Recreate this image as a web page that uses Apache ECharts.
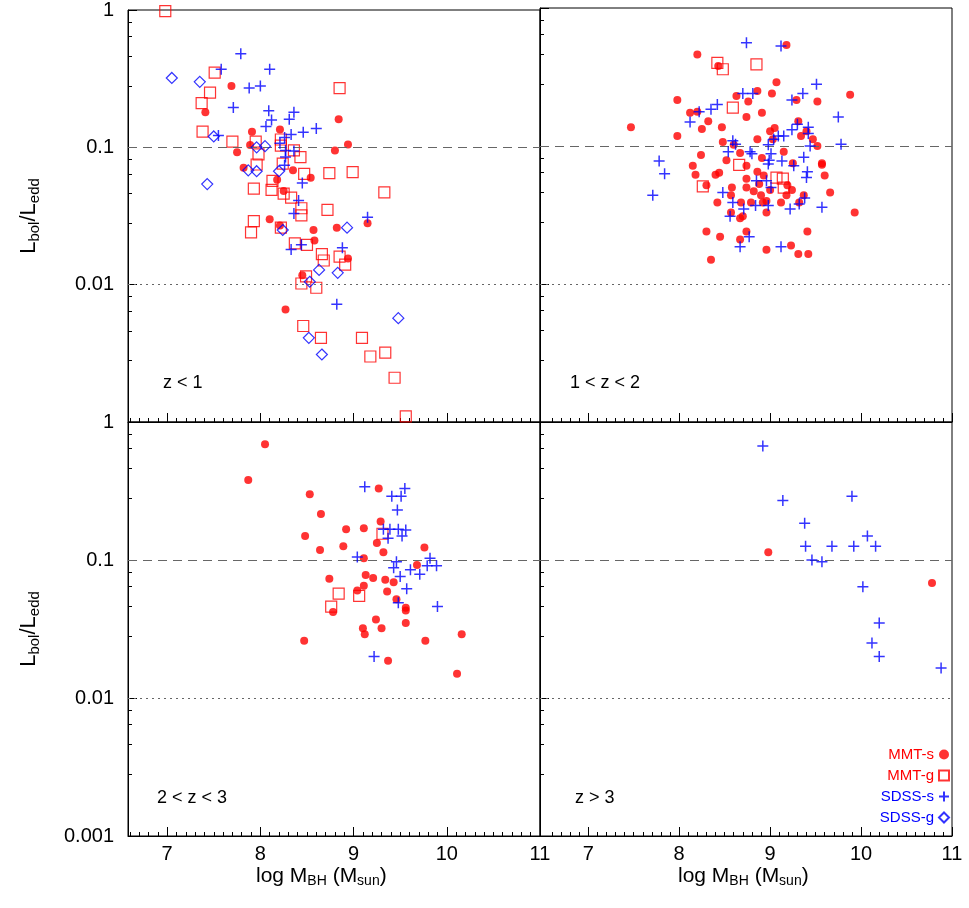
<!DOCTYPE html>
<html>
<head>
<meta charset="utf-8">
<script src="https://cdn.jsdelivr.net/npm/echarts@6/dist/echarts.min.js"></script>
<style>html,body{margin:0;background:#fff}#app{width:969px;height:908px}</style>
</head>
<body>
<div id="app"></div>
<script>
// panel labels
var panelNames = ['z < 1', '1 < z < 2', '2 < z < 3', 'z > 3'];
var seriesNames = ['MMT-s', 'MMT-g', 'SDSS-s', 'SDSS-g'];
var xTicks = [7, 8, 9, 10, 11];
var xMinorTicks = [];
for (var t = 66; t <= 110; t++) if (t % 10) xMinorTicks.push(t / 10);
var yTicks = [0.001, 0.01, 0.1, 1];

// z < 1 : [log M_BH, Lbol/Ledd]
var z1MmtS = [[7.69,0.28],[7.41,0.18],[7.91,0.13],[8.21,0.135],[7.89,0.104],[7.75,0.092],[8.84,0.16],[8.94,0.105],[8.80,0.095],[7.82,0.071],[8.35,0.068],[8.54,0.06],[8.18,0.058],[8.25,0.048],[8.10,0.030],[8.21,0.027],[8.57,0.025],[8.82,0.026],[8.58,0.021],[9.15,0.028],[8.94,0.0155],[8.45,0.0117],[8.27,0.0066]];
var z1MmtG = [[6.98,0.98],[7.51,0.35],[7.46,0.25],[7.37,0.21],[7.38,0.13],[7.70,0.11],[8.85,0.27],[7.95,0.11],[7.98,0.089],[7.96,0.075],[8.22,0.114],[8.22,0.103],[8.36,0.095],[8.43,0.085],[8.24,0.076],[8.13,0.057],[7.93,0.05],[8.12,0.049],[8.25,0.046],[8.33,0.043],[8.47,0.064],[8.74,0.065],[8.99,0.066],[9.33,0.047],[8.44,0.036],[8.72,0.035],[8.44,0.032],[7.93,0.029],[7.90,0.024],[8.22,0.026],[8.37,0.020],[8.50,0.0195],[8.66,0.0167],[8.68,0.015],[8.85,0.016],[8.91,0.014],[8.49,0.0115],[8.44,0.0102],[8.60,0.0095],[8.46,0.005],[8.65,0.0041],[9.09,0.0041],[9.18,0.003],[9.34,0.0032],[9.44,0.0021],[9.56,0.0011]];
var z1SdssS = [[7.79,0.48],[7.58,0.37],[8.10,0.37],[7.88,0.27],[8.00,0.28],[7.71,0.195],[8.09,0.185],[8.36,0.18],[8.31,0.16],[8.12,0.158],[8.06,0.142],[8.60,0.137],[8.46,0.129],[8.33,0.124],[8.26,0.118],[7.55,0.122],[8.21,0.107],[8.27,0.095],[8.36,0.094],[8.27,0.085],[8.26,0.074],[8.45,0.055],[8.41,0.041],[8.36,0.033],[9.15,0.031],[8.44,0.0195],[8.33,0.018],[8.88,0.0186],[8.82,0.0072]];
var z1SdssG = [[7.05,0.32],[7.35,0.30],[7.50,0.12],[7.43,0.054],[7.96,0.1],[8.05,0.102],[7.87,0.068],[7.96,0.067],[8.20,0.067],[8.24,0.025],[8.93,0.026],[8.63,0.0128],[8.83,0.0122],[8.53,0.0105],[9.48,0.0057],[8.52,0.0041],[8.66,0.0031]];

// 1 < z < 2
var z2MmtS = [[9.18,0.54],[8.20,0.46],[8.43,0.38],[9.07,0.29],[8.63,0.23],[8.86,0.25],[9.02,0.24],[9.88,0.235],[7.98,0.215],[8.76,0.21],[9.29,0.215],[9.52,0.21],[8.12,0.174],[8.20,0.177],[8.91,0.174],[8.74,0.162],[8.32,0.151],[7.47,0.137],[8.25,0.133],[8.47,0.137],[9.31,0.151],[7.98,0.118],[9.00,0.128],[9.05,0.135],[9.34,0.118],[9.40,0.128],[8.48,0.107],[8.86,0.112],[9.03,0.112],[9.47,0.112],[9.52,0.1],[8.60,0.102],[8.24,0.086],[8.52,0.079],[8.67,0.089],[8.91,0.082],[9.15,0.091],[8.15,0.072],[8.74,0.072],[9.25,0.075],[9.57,0.075],[9.57,0.073],[8.18,0.062],[8.40,0.062],[8.44,0.064],[8.74,0.058],[8.86,0.065],[8.93,0.061],[9.60,0.061],[8.30,0.052],[8.58,0.05],[8.74,0.05],[8.88,0.053],[9.19,0.052],[9.24,0.048],[8.57,0.044],[8.82,0.047],[8.90,0.044],[9.00,0.048],[9.18,0.044],[9.37,0.044],[9.66,0.046],[8.42,0.039],[8.68,0.039],[8.79,0.039],[8.92,0.039],[8.96,0.04],[9.12,0.039],[9.32,0.039],[9.93,0.033],[8.57,0.033],[8.96,0.033],[8.67,0.030],[8.70,0.031],[8.30,0.024],[8.74,0.024],[9.41,0.024],[8.45,0.022],[8.67,0.021],[8.96,0.0177],[9.23,0.019],[9.31,0.0165],[9.42,0.0165],[8.35,0.015]];
var z2MmtG = [[8.42,0.40],[8.48,0.36],[8.85,0.39],[8.59,0.19],[8.66,0.073],[8.26,0.051],[9.07,0.059],[9.14,0.058],[9.15,0.05]];
var z2SdssS = [[8.74,0.56],[9.12,0.53],[9.51,0.28],[9.36,0.24],[8.70,0.24],[8.81,0.24],[9.24,0.215],[8.42,0.2],[8.35,0.185],[8.22,0.177],[8.12,0.149],[9.75,0.162],[9.30,0.144],[9.42,0.137],[9.24,0.131],[9.15,0.118],[9.09,0.118],[9.42,0.123],[9.04,0.112],[8.59,0.109],[8.62,0.103],[8.98,0.102],[9.44,0.1],[9.78,0.103],[8.54,0.091],[8.78,0.091],[8.80,0.088],[9.01,0.088],[7.78,0.078],[9.37,0.083],[8.99,0.079],[9.13,0.078],[8.98,0.074],[9.26,0.072],[7.84,0.063],[9.41,0.065],[9.40,0.059],[8.85,0.056],[8.96,0.056],[9.01,0.05],[7.71,0.044],[8.48,0.046],[9.38,0.042],[8.59,0.039],[8.71,0.035],[8.84,0.037],[8.98,0.037],[9.22,0.035],[9.32,0.038],[9.57,0.036],[8.56,0.031],[8.77,0.022],[8.67,0.0186],[9.12,0.0186]];
var z2SdssG = [];

// 2 < z < 3
var z3MmtS = [[8.05,0.69],[7.87,0.38],[8.53,0.30],[8.65,0.215],[9.27,0.33],[8.48,0.149],[8.92,0.167],[9.11,0.17],[9.29,0.19],[8.64,0.118],[8.89,0.126],[9.25,0.133],[9.32,0.114],[9.76,0.123],[9.11,0.103],[9.68,0.092],[8.74,0.073],[9.13,0.078],[9.21,0.074],[9.34,0.072],[9.43,0.069],[9.11,0.065],[9.04,0.06],[9.36,0.059],[9.46,0.052],[8.78,0.042],[9.56,0.045],[9.56,0.043],[9.24,0.037],[9.56,0.035],[9.10,0.032],[9.30,0.032],[9.12,0.029],[8.47,0.026],[9.77,0.026],[10.16,0.029],[9.37,0.0186],[10.11,0.015]];
var z3MmtG = [[9.31,0.155],[8.84,0.057],[9.06,0.055],[8.76,0.046]];
var z3SdssS = [[9.12,0.34],[9.55,0.33],[9.41,0.29],[9.51,0.29],[9.47,0.23],[9.32,0.167],[9.39,0.167],[9.48,0.167],[9.56,0.165],[9.52,0.149],[9.37,0.144],[9.04,0.105],[9.82,0.103],[9.46,0.097],[9.43,0.088],[9.79,0.091],[9.89,0.091],[9.61,0.085],[9.71,0.079],[9.50,0.076],[9.57,0.062],[9.48,0.049],[9.90,0.046],[9.22,0.020]];
var z3SdssG = [];

// z > 3
var z4MmtS = [[8.98,0.114],[10.78,0.068]];
var z4MmtG = [];
var z4SdssS = [[8.92,0.67],[9.14,0.27],[9.38,0.185],[9.39,0.126],[9.68,0.126],[9.92,0.126],[9.90,0.29],[10.07,0.149],[10.16,0.126],[9.46,0.1],[9.57,0.097],[10.02,0.064],[10.20,0.035],[10.12,0.025],[10.20,0.020],[10.88,0.0165]];
var z4SdssG = [];

var panels = [
  [z1MmtS, z1MmtG, z1SdssS, z1SdssG],
  [z2MmtS, z2MmtG, z2SdssS, z2SdssG],
  [z3MmtS, z3MmtG, z3SdssS, z3SdssG],
  [z4MmtS, z4MmtG, z4SdssS, z4SdssG]
];

var plusPath = 'path://M0,5L10,5M5,0L5,10';
var styles = [
  { symbol: 'circle', symbolSize: 8, itemStyle: { color: '#f00' } },
  { symbol: 'rect', symbolSize: 11, itemStyle: { color: 'rgba(0,0,0,0)', borderColor: '#f00', borderWidth: 1.2 } },
  { symbol: plusPath, symbolSize: 11, itemStyle: { color: 'rgba(0,0,0,0)', borderColor: '#00f', borderWidth: 1.5 } },
  { symbol: 'diamond', symbolSize: 11, itemStyle: { color: 'rgba(0,0,0,0)', borderColor: '#00f', borderWidth: 1.2 } }
];

var gridPos = [
  { left: 128, top: 8, xmin: 6.58 }, { left: 540, top: 8, xmin: 6.47 },
  { left: 128, top: 422, xmin: 6.58 }, { left: 540, top: 422, xmin: 6.47 }
];
var grids = [], xAxes = [], yAxes = [], series = [];
gridPos.forEach(function (g, i) {
  grids.push({ left: g.left, top: g.top, width: 412, height: 414, show: true, borderColor: '#000', borderWidth: 1, backgroundColor: 'transparent' });
  // major ticks at integers
  xAxes.push({
    gridIndex: i, type: 'value', min: g.xmin, max: 11,
    axisLine: { show: true, lineStyle: { color: '#000' } },
    axisTick: { show: true, inside: true, length: 9, customValues: xTicks, lineStyle: { color: '#000' } },
    splitLine: { show: false },
    axisLabel: {
      show: i >= 2, color: '#000', fontSize: 20, fontFamily: 'Liberation Sans', customValues: xTicks,
      formatter: function (v) { return String(v); }
    }
  });
  // minor ticks (second, label-less axis)
  xAxes.push({
    gridIndex: i, type: 'value', min: g.xmin, max: 11, position: 'bottom',
    axisLine: { show: false },
    axisTick: { show: true, inside: true, length: 4, customValues: xMinorTicks, lineStyle: { color: '#000' } },
    splitLine: { show: false },
    axisLabel: { show: false }
  });
  yAxes.push({
    gridIndex: i, type: 'log', logBase: 10, min: 0.001, max: 1,
    axisLine: { show: true, lineStyle: { color: '#000' } },
    axisTick: { show: true, inside: true, length: 9, lineStyle: { color: '#000' } },
    minorTick: { show: true, length: 4, lineStyle: { color: '#000' } },
    splitLine: { show: false },
    name: (i % 2 === 0) ? '{a|L}{s|bol}{a|/L}{s|edd}' : '',
    nameLocation: 'middle', nameRotate: 90, nameGap: 86,
    nameTextStyle: { rich: { a: { fontSize: 22, color: '#000', fontFamily: 'Liberation Sans' }, s: { fontSize: 15, color: '#000', fontFamily: 'Liberation Sans', verticalAlign: 'bottom', padding: [12, 0, 0, 0] } } },
    axisLabel: {
      show: i % 2 === 0, color: '#000', fontSize: 20, fontFamily: 'Liberation Sans', margin: 14,
      formatter: function (v) {
        var r = Number(v.toPrecision(3));
        if (i === 0 && r < 0.005) return '';
        return yTicks.indexOf(r) >= 0 ? String(r) : '';
      }
    }
  });
  panels[i].forEach(function (data, k) {
    var s = {
      name: seriesNames[k], type: 'scatter', xAxisIndex: 2 * i, yAxisIndex: i, data: data,
      symbol: styles[k].symbol, symbolSize: styles[k].symbolSize, itemStyle: styles[k].itemStyle,
      z: 3 + k
    };
    if (k === 0) {
      s.markLine = {
        silent: true, symbol: 'none', label: { show: false },
        data: [
          { yAxis: 0.1, lineStyle: { type: [9, 6], color: '#666', width: 1 } },
          { yAxis: 0.01, lineStyle: { type: [2, 4], color: '#666', width: 1 } }
        ]
      };
    }
    series.push(s);
  });
});

var labelPos = [[163, 374], [570, 374], [157, 789], [575, 789]];
var graphics = labelPos.map(function (p, i) {
  return { type: 'text', left: p[0], top: p[1], style: { text: panelNames[i], fontSize: 18, fill: '#000', fontFamily: 'Liberation Sans' } };
});
[[256, 866], [678, 866]].forEach(function (p) {
  graphics.push({
    type: 'text', left: p[0], top: p[1],
    style: {
      text: '{a|log M}{s|BH}{a| (M}{s|sun}{a|)}',
      rich: { a: { fontSize: 21, fill: '#000', fontFamily: 'Liberation Sans' }, s: { fontSize: 14, fill: '#000', fontFamily: 'Liberation Sans', padding: [10, 0, 0, 0] } }
    }
  });
});

var legendColors = ['#f00', '#f00', '#00f', '#00f'];
var myChart = echarts.init(document.getElementById('app'));
myChart.setOption({
  animation: false,
  grid: grids, xAxis: xAxes, yAxis: yAxes, series: series, graphic: graphics,
  legend: {
    orient: 'vertical', right: 14, top: 742, align: 'right', itemGap: 6, itemWidth: 10, itemHeight: 10,
    selectedMode: false,
    data: seriesNames.map(function (n, k) {
      return { name: n, textStyle: { color: legendColors[k], fontSize: 15, fontFamily: 'Liberation Sans' } };
    })
  }
});
</script>
</body>
</html>
